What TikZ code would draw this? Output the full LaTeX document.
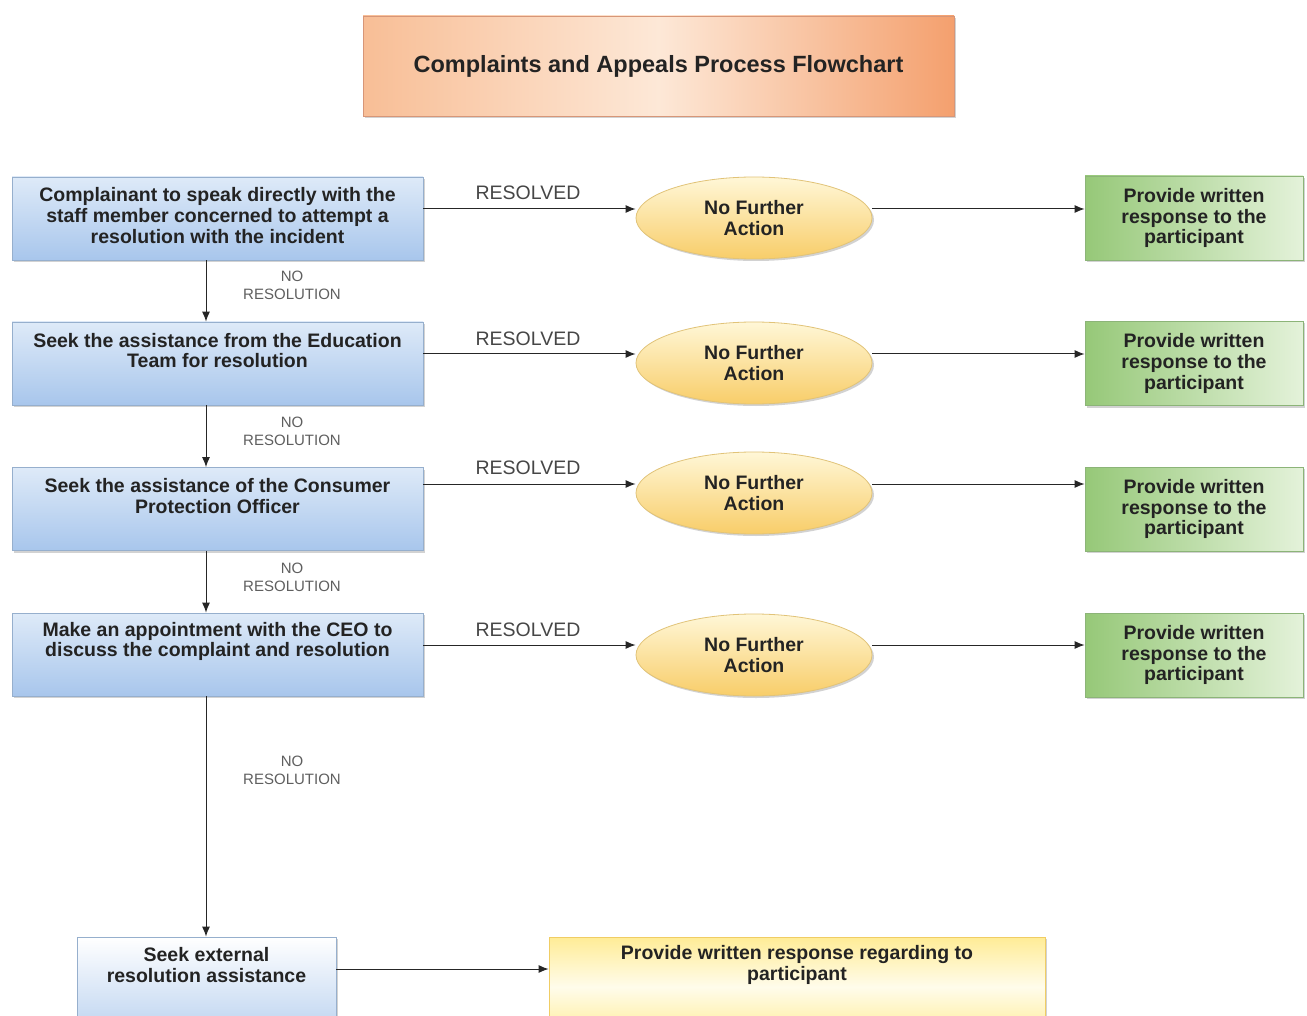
\documentclass[tikz,border=0pt]{standalone}
\usepackage{fontspec}
\setmainfont{Liberation Sans}
\usetikzlibrary{shapes.geometric,shadows,arrows.meta}
\definecolor{txt}{RGB}{35,35,35}
\definecolor{lbl}{RGB}{70,70,70}
\definecolor{nolbl}{RGB}{95,95,95}
\definecolor{bluetop}{RGB}{222,234,248}
\definecolor{bluebot}{RGB}{168,198,236}
\definecolor{blueedge}{RGB}{150,175,205}
\definecolor{greenL}{RGB}{150,200,120}
\definecolor{greenR}{RGB}{228,242,218}
\definecolor{greenedge}{RGB}{140,180,120}
\definecolor{yeltop}{RGB}{255,247,215}
\definecolor{yelbot}{RGB}{248,205,105}
\definecolor{yeledge}{RGB}{225,195,120}
\definecolor{orL}{RGB}{248,190,150}
\definecolor{orM}{RGB}{253,232,215}
\definecolor{orR}{RGB}{244,160,110}
\definecolor{oredge}{RGB}{215,150,120}
\definecolor{ybtop}{RGB}{255,236,150}
\definecolor{ybmid}{RGB}{255,252,235}
\definecolor{ybedge}{RGB}{240,205,100}
\tikzset{
  shd/.style={drop shadow={opacity=0.35,shadow xshift=2pt,shadow yshift=-2pt}},
  boxtext/.style={font=\fontsize{19.5}{20.7}\selectfont\bfseries, text=txt, align=center},
  bluebox/.style={shd, rectangle, draw=blueedge, line width=0.8pt, top color=bluetop, bottom color=bluebot, minimum width=411pt, minimum height=83pt, inner sep=0pt},
  greenbox/.style={shd, rectangle, draw=greenedge, line width=0.8pt, left color=greenL, right color=greenR, minimum width=218pt, minimum height=84pt, inner sep=0pt, boxtext},
  nfa/.style={shd, ellipse, draw=yeledge, line width=0.8pt, top color=yeltop, bottom color=yelbot, minimum width=236pt, minimum height=82pt, inner sep=0pt, boxtext},
  resl/.style={font=\fontsize{19.5}{20}\selectfont, text=lbl},
  nores/.style={font=\fontsize{15}{18}\selectfont, text=nolbl, align=center},
  arr/.style={draw=black!85, line width=1pt, -{Latex[length=10pt,width=8pt]}},
}
\begin{document}
\begin{tikzpicture}[x=1pt,y=-1pt]
\useasboundingbox[fill=white] (0,0) rectangle (1307,1016);
% title
\node[shd, rectangle, draw=oredge, line width=0.8pt, left color=orL, right color=orR, middle color=orM,
  minimum width=591pt, minimum height=100pt, inner sep=0pt,
  font=\fontsize{23.5}{26}\selectfont\bfseries, text=txt] (title) at (658.5,66) {\raisebox{5pt}{Complaints and Appeals Process Flowchart}};
% left column
\node[bluebox, label={[boxtext, yshift=3pt]center:Complainant to speak directly with the\\staff member concerned to attempt a\\resolution with the incident}] (b1) at (217.5,218.5) {};
\node[bluebox, label={[boxtext, yshift=13pt]center:Seek the assistance from the Education\\Team for resolution}] (b2) at (217.5,363.5) {};
\node[bluebox, label={[boxtext, yshift=13pt]center:Seek the assistance of the Consumer\\Protection Officer}] (b3) at (217.5,509) {};
\node[bluebox, label={[boxtext, yshift=13pt]center:Make an appointment with the CEO to\\discuss the complaint and resolution}] (b4) at (217.5,654.5) {};
% ellipses
\node[nfa] (e1) at (754,218) {No Further\\Action};
\node[nfa] (e2) at (754,363) {No Further\\Action};
\node[nfa] (e3) at (754,493) {No Further\\Action};
\node[nfa] (e4) at (754,655) {No Further\\Action};
% green boxes
\node[greenbox] (g1) at (1194,218) {Provide written\\response to the\\participant};
\node[greenbox] (g2) at (1194,363.5) {Provide written\\response to the\\participant};
\node[greenbox] (g3) at (1194,509) {Provide written\\response to the\\participant};
\node[greenbox] (g4) at (1194,655) {Provide written\\response to the\\participant};
% bottom
\node[shd, rectangle, draw=blueedge, line width=0.8pt, top color=white, bottom color=bluebot!80, minimum width=259pt, minimum height=100pt, inner sep=0pt,
  label={[boxtext, yshift=22pt]center:Seek external\\resolution assistance}] (b5) at (206.5,987) {};
\node[shd, rectangle, draw=ybedge, line width=0.8pt, top color=ybtop, bottom color=ybtop, middle color=ybmid, minimum width=496pt, minimum height=100pt, inner sep=0pt,
  label={[boxtext, yshift=22pt]center:Provide written response regarding to\\participant}] (y5) at (797,987) {};
% levels
\coordinate (r1) at (0,209);
\coordinate (r2) at (0,354);
\coordinate (r3) at (0,484);
\coordinate (r4) at (0,645);
\coordinate (r5) at (0,969);
\coordinate (vx) at (206,0);
% horizontal arrows
\draw[arr] (b1.east |- r1) -- (e1.west |- r1);
\draw[arr] (e1.east |- r1) -- (g1.west |- r1);
\draw[arr] (b2.east |- r2) -- (e2.west |- r2);
\draw[arr] (e2.east |- r2) -- (g2.west |- r2);
\draw[arr] (b3.east |- r3) -- (e3.west |- r3);
\draw[arr] (e3.east |- r3) -- (g3.west |- r3);
\draw[arr] (b4.east |- r4) -- (e4.west |- r4);
\draw[arr] (e4.east |- r4) -- (g4.west |- r4);
\draw[arr] (b5.east |- r5) -- (y5.west |- r5);
% vertical arrows
\draw[arr] (b1.south -| vx) -- (b2.north -| vx);
\draw[arr] (b2.south -| vx) -- (b3.north -| vx);
\draw[arr] (b3.south -| vx) -- (b4.north -| vx);
\draw[arr] (b4.south -| vx) -- (b5.north -| vx);
% labels
\node[resl] (l1) at (528,193) {RESOLVED};
\node[resl] (l2) at (528,339) {RESOLVED};
\node[resl] (l3) at (528,468) {RESOLVED};
\node[resl] (l4) at (528,630) {RESOLVED};
\node[nores] (n1) at (292,285) {NO\\RESOLUTION};
\node[nores] (n2) at (292,431) {NO\\RESOLUTION};
\node[nores] (n3) at (292,577) {NO\\RESOLUTION};
\node[nores] (n4) at (292,770) {NO\\RESOLUTION};
\end{tikzpicture}
\end{document}
